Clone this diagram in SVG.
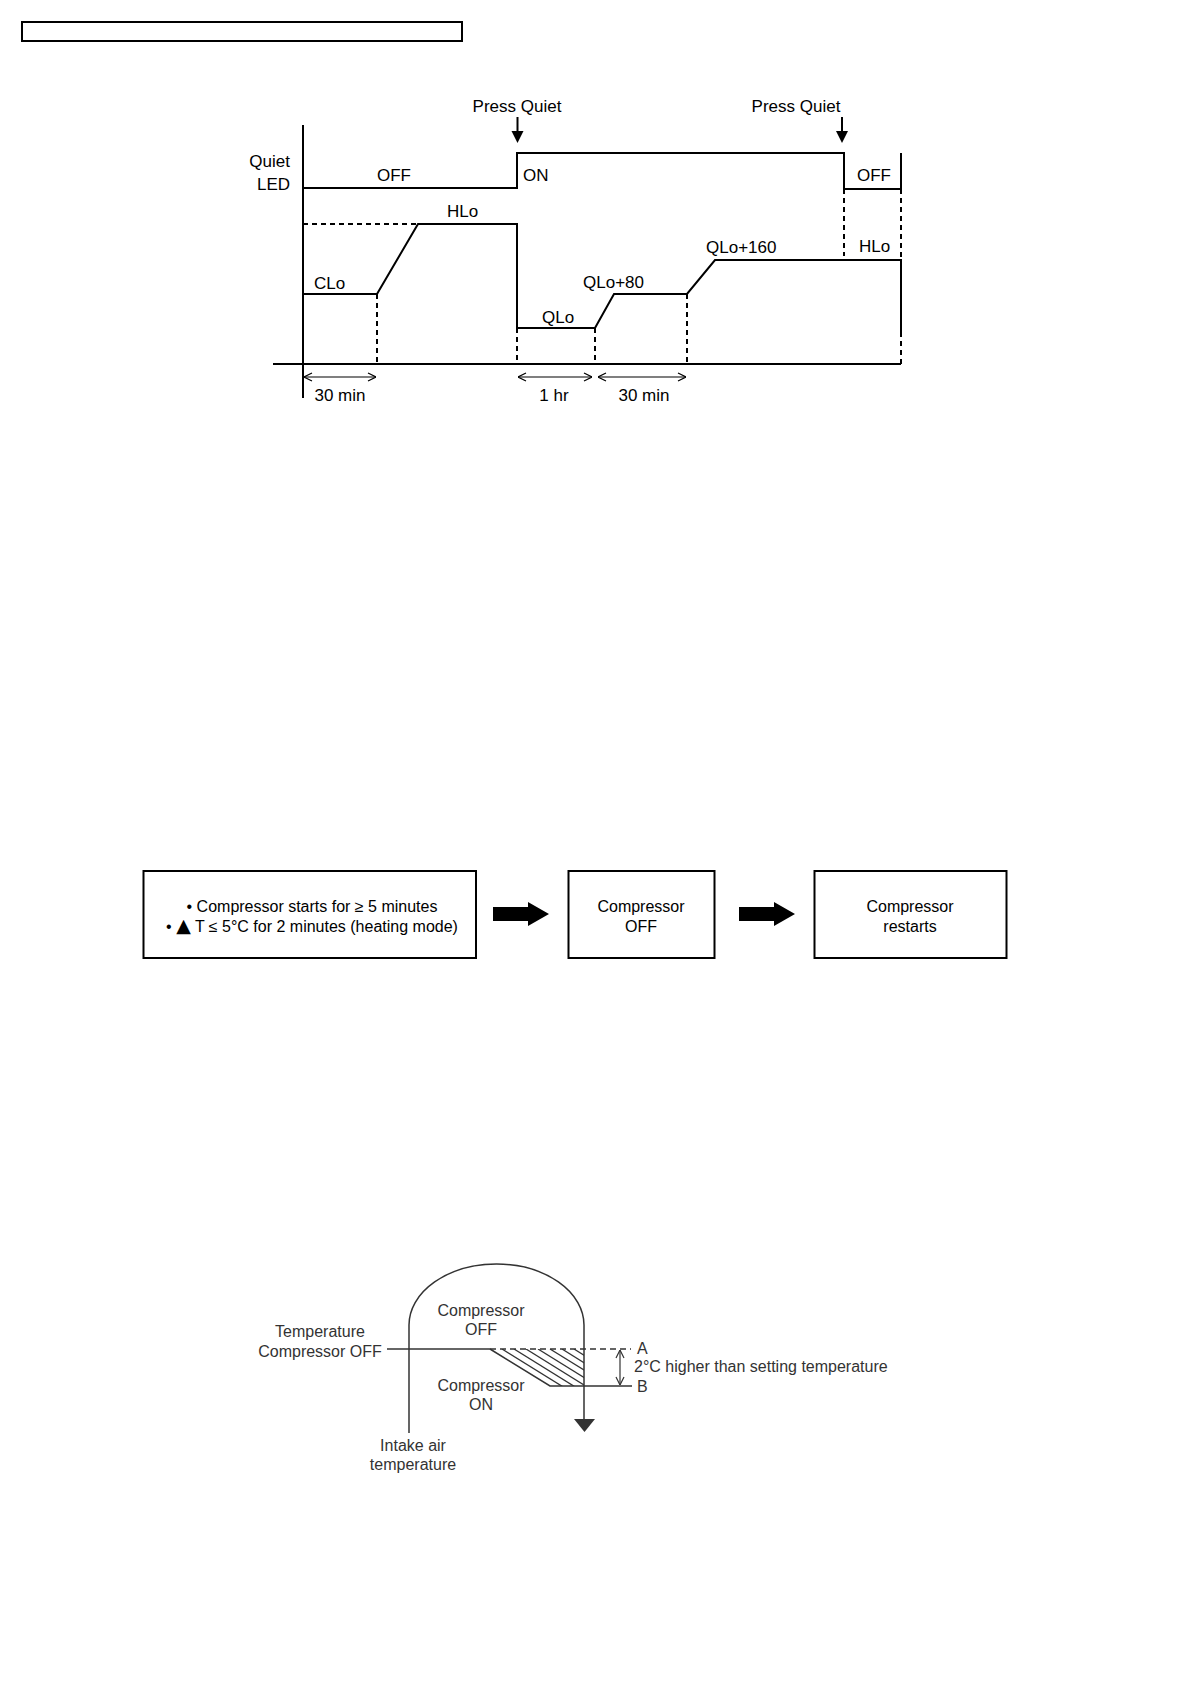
<svg xmlns="http://www.w3.org/2000/svg" width="1190" height="1684" viewBox="0 0 1190 1684">
<style>
text{font-family:"Liberation Sans",Arial,sans-serif;fill:#000}
.t17{font-size:17px}
.t16{font-size:16px}
.g text{fill:#333;font-size:16px}
.ln{fill:none;stroke:#000;stroke-width:2}
.dsh{fill:none;stroke:#000;stroke-width:2;stroke-dasharray:5 4}
.dim{fill:none;stroke:#000;stroke-width:1.2;marker-start:url(#chev);marker-end:url(#chev)}
.box{fill:#fff;stroke:#000;stroke-width:2}
.gl{fill:none;stroke:#333;stroke-width:1.5}
.gd{fill:none;stroke:#333;stroke-width:1.5;stroke-dasharray:6 4}
.gdim{fill:none;stroke:#333;stroke-width:1.2;marker-start:url(#chev2);marker-end:url(#chev2)}
</style>
<defs>
<marker id="chev" viewBox="0 0 10 10" refX="10" refY="5" markerWidth="10" markerHeight="10" markerUnits="userSpaceOnUse" orient="auto-start-reverse">
<path d="M2,1 L10,5 L2,9" fill="none" stroke="#000" stroke-width="1.2"/>
</marker>
<marker id="chev2" viewBox="0 0 10 10" refX="10" refY="5" markerWidth="10" markerHeight="10" markerUnits="userSpaceOnUse" orient="auto-start-reverse">
<path d="M2,1 L10,5 L2,9" fill="none" stroke="#333" stroke-width="1.2"/>
</marker>
<clipPath id="hclip"><polygon points="490,1349 584,1349 584,1386 550,1386"/></clipPath>
</defs>

<rect x="22" y="22" width="440" height="19" fill="none" stroke="#000" stroke-width="2"/>

<!-- Diagram 1: Quiet operation timing chart -->
<g id="quiet-chart">
<g id="axes">
<line class="ln" x1="303" y1="125" x2="303" y2="398"/>
<line class="ln" x1="273" y1="364" x2="901" y2="364"/>
</g>
<g id="led-signal">
<path class="ln" d="M303,188 H517 V153 H844 V189 H901"/>
<line class="ln" x1="901" y1="153" x2="901" y2="189"/>
</g>
<g id="fan-speed">
<path class="ln" d="M303,294 H377 L418,224 H517 V328 H595 L614,294 H687 L715,260 H901 V332"/>
</g>
<g id="guides">
<line class="dsh" x1="303" y1="224" x2="418" y2="224"/>
<line class="dsh" x1="377" y1="294" x2="377" y2="364"/>
<line class="dsh" x1="517" y1="328" x2="517" y2="364"/>
<line class="dsh" x1="595" y1="328" x2="595" y2="364"/>
<line class="dsh" x1="687" y1="294" x2="687" y2="364"/>
<line class="dsh" x1="901" y1="332" x2="901" y2="364"/>
<line class="dsh" x1="844" y1="189" x2="844" y2="256"/>
<line class="dsh" x1="901" y1="189" x2="901" y2="260"/>
</g>
<g id="press-arrows">
<line class="ln" x1="517.5" y1="117" x2="517.5" y2="132"/>
<polygon points="511.5,131 523.5,131 517.5,143" fill="#000"/>
<line class="ln" x1="842" y1="117" x2="842" y2="132"/>
<polygon points="836,131 848,131 842,143" fill="#000"/>
</g>
<g id="dimensions">
<line class="dim" x1="304" y1="377" x2="376" y2="377"/>
<line class="dim" x1="518" y1="377" x2="592" y2="377"/>
<line class="dim" x1="598" y1="377" x2="686" y2="377"/>
</g>
<g id="chart-labels" class="t17">
<text x="517" y="112" text-anchor="middle">Press Quiet</text>
<text x="796" y="112" text-anchor="middle">Press Quiet</text>
<text x="290" y="167" text-anchor="end">Quiet</text>
<text x="290" y="190" text-anchor="end">LED</text>
<text x="377" y="181">OFF</text>
<text x="523" y="181">ON</text>
<text x="857" y="181">OFF</text>
<text x="447" y="217">HLo</text>
<text x="314" y="289">CLo</text>
<text x="542" y="323">QLo</text>
<text x="583" y="288">QLo+80</text>
<text x="706" y="253">QLo+160</text>
<text x="859" y="252">HLo</text>
<text x="340" y="401" text-anchor="middle">30 min</text>
<text x="554" y="401" text-anchor="middle">1 hr</text>
<text x="644" y="401" text-anchor="middle">30 min</text>
</g>
</g>

<!-- Diagram 2: flow -->
<g id="flow">
<g id="box-condition">
<rect class="box" x="143.5" y="871" width="332.5" height="87"/>
<text class="t16" x="312" y="912" text-anchor="middle">• Compressor starts for ≥ 5 minutes</text>
<text class="t16" x="312" y="931.5" text-anchor="middle">• <tspan style="font-family:'DejaVu Sans',sans-serif;font-size:19px">▲</tspan> T ≤ 5°C for 2 minutes (heating mode)</text>
</g>
<g id="box-off">
<rect class="box" x="568.5" y="871" width="146" height="87"/>
<text class="t16" x="641" y="912" text-anchor="middle">Compressor</text>
<text class="t16" x="641" y="931.5" text-anchor="middle">OFF</text>
</g>
<g id="box-restart">
<rect class="box" x="814.5" y="871" width="192" height="87"/>
<text class="t16" x="910" y="912" text-anchor="middle">Compressor</text>
<text class="t16" x="910" y="931.5" text-anchor="middle">restarts</text>
</g>
<g id="flow-connectors">
<polygon points="493,907 528,907 528,902 549,914 528,926 528,921 493,921" fill="#000"/>
<polygon points="739,907 774,907 774,902 795,914 774,926 774,921 739,921" fill="#000"/>
</g>
</g>

<!-- Diagram 3: compressor off temperature -->
<g id="temp-diagram" class="g">
<path class="gl" d="M409,1433 V1325 A87.5,61 0 0 1 584,1325 V1421"/>
<polygon points="574,1419 595,1419 584.5,1432" fill="#333"/>
<line class="gl" x1="387" y1="1349" x2="490" y2="1349"/>
<line class="gd" x1="490" y1="1349" x2="631" y2="1349"/>
<path class="gl" d="M490,1349 L550,1386 H632"/>
<g clip-path="url(#hclip)" stroke="#333" stroke-width="1.3">
<line x1="502" y1="1349" x2="602" y2="1411"/>
<line x1="514" y1="1349" x2="614" y2="1411"/>
<line x1="526" y1="1349" x2="626" y2="1411"/>
<line x1="538" y1="1349" x2="638" y2="1411"/>
<line x1="550" y1="1349" x2="650" y2="1411"/>
<line x1="562" y1="1349" x2="662" y2="1411"/>
<line x1="574" y1="1349" x2="674" y2="1411"/>
</g>
<line class="gdim" x1="620" y1="1350" x2="620" y2="1385"/>
<text x="320" y="1337" text-anchor="middle">Temperature</text>
<text x="320" y="1356.5" text-anchor="middle">Compressor OFF</text>
<text x="481" y="1316" text-anchor="middle">Compressor</text>
<text x="481" y="1335" text-anchor="middle">OFF</text>
<text x="481" y="1391" text-anchor="middle">Compressor</text>
<text x="481" y="1410" text-anchor="middle">ON</text>
<text x="413" y="1451" text-anchor="middle">Intake air</text>
<text x="413" y="1470" text-anchor="middle">temperature</text>
<text x="637" y="1353.5">A</text>
<text x="637" y="1392">B</text>
<text x="634" y="1372">2°C higher than setting temperature</text>
</g>
</svg>
